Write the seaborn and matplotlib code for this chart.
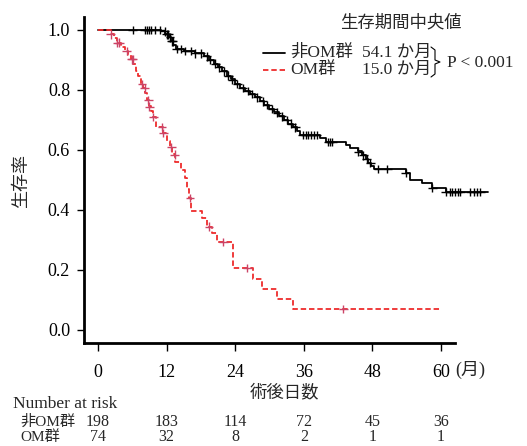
import numpy as np
import pandas as pd
import seaborn as sns
import matplotlib.pyplot as plt
from matplotlib.lines import Line2D
from matplotlib.transforms import blended_transform_factory

# Kaplan-Meier steps (month, survival)
non_om_time = [0, 11.0, 11.8, 12.4, 12.8, 13.2, 13.6, 15.0, 17.0, 18.5, 19.5, 20.3, 21.0, 21.7, 22.5, 23.2, 23.9,
               24.8, 25.7, 26.6, 27.5, 28.3, 29.1, 29.9, 30.8, 31.7, 32.5, 33.3, 34.1, 34.8, 35.4, 38.9, 39.8,
               43.3, 44.1, 45.5, 46.2, 46.8, 47.3, 47.8, 48.3, 53.8, 54.5, 56.7, 58.5, 60.8, 68.3]
non_om_surv = [1.0, 0.995, 0.985, 0.975, 0.962, 0.95, 0.937, 0.93, 0.922, 0.912, 0.9, 0.888, 0.875, 0.862, 0.848, 0.835, 0.82,
               0.807, 0.797, 0.787, 0.775, 0.762, 0.75, 0.737, 0.725, 0.712, 0.7, 0.688, 0.675, 0.662, 0.65, 0.64, 0.627,
               0.617, 0.607, 0.595, 0.582, 0.57, 0.557, 0.545, 0.537, 0.523, 0.5, 0.49, 0.473, 0.46, 0.46]
om_time = [0, 2.2, 2.8, 3.4, 4.0, 4.7, 5.3, 5.8, 6.2, 6.6, 7.0, 7.5, 7.9, 8.3, 8.6, 8.9, 9.3, 9.7, 10.1, 11.3,
           12.1, 12.6, 13.0, 13.5, 14.6, 15.2, 15.6, 15.9, 16.2, 18.2, 19.1, 20.0, 20.9, 23.6, 27.1, 28.7, 31.3, 34.1, 60.0]
om_surv = [1.0, 0.986, 0.972, 0.958, 0.944, 0.93, 0.916, 0.902, 0.888, 0.862, 0.848, 0.82, 0.806, 0.79, 0.767, 0.745, 0.73, 0.71, 0.677, 0.657,
           0.63, 0.61, 0.585, 0.56, 0.533, 0.505, 0.47, 0.44, 0.397, 0.373, 0.345, 0.322, 0.293, 0.207, 0.17, 0.137, 0.103, 0.07, 0.07]

# censor marks (months)
non_om_censor = [6.1, 8.2, 8.6, 8.9, 9.2, 10.0, 10.9, 11.7, 12.0, 12.3, 12.6, 12.9, 13.1, 13.8, 14.5, 15.3, 16.2, 17.0,
                 18.0, 19.0, 19.6, 20.5, 21.2, 22.0, 22.8, 23.5, 24.4, 25.3, 26.2, 27.0, 27.9, 28.8, 29.6, 30.5, 31.3,
                 32.2, 33.0, 33.8, 34.5, 35.8, 36.3, 36.8, 37.3, 37.8, 38.3, 40.3, 40.6, 41.0, 45.5, 46.4, 47.0, 47.6,
                 49.0, 50.6, 53.8, 58.5, 60.8, 61.6, 62.0, 62.4, 62.9, 63.4, 65.1, 65.7, 66.3, 66.9]
om_censor = [2.2, 3.4, 3.7, 5.0, 5.9, 6.1, 7.7, 8.2, 8.8, 9.0, 9.7, 11.2, 11.4, 12.8, 13.4, 16.1, 19.4, 21.9, 26.1, 42.9]

groups = ['非OM群', 'OM群']
medians = ['54.1 か月', '15.0 か月']
risk_months = [0, 12, 24, 36, 48, 60]
risk_non_om = [198, 183, 114, 72, 45, 36]
risk_om = [74, 32, 8, 2, 1, 1]

line_colors = {'非OM群': 'black', 'OM群': '#ee2c2c'}
mark_colors = {'非OM群': 'black', 'OM群': '#cc4466'}

W, H = 527, 446


def fx(px):
    return px / W


def fy(py):
    return 1 - py / H


def surv_at(times, surv, t):
    idx = np.searchsorted(times, t, side='right') - 1
    return np.asarray(surv)[idx]


curves = pd.concat([
    pd.DataFrame({'time': non_om_time, 'surv': non_om_surv, 'group': groups[0]}),
    pd.DataFrame({'time': om_time, 'surv': om_surv, 'group': groups[1]}),
])
censors = pd.concat([
    pd.DataFrame({'time': non_om_censor, 'surv': surv_at(non_om_time, non_om_surv, non_om_censor), 'group': groups[0]}),
    pd.DataFrame({'time': om_censor, 'surv': surv_at(om_time, om_surv, om_censor), 'group': groups[1]}),
])

sns.set_style("ticks")
plt.rcParams['font.family'] = ['Liberation Serif', 'Noto Sans CJK JP']

fig = plt.figure(figsize=(W / 100, H / 100), dpi=100)
ax = fig.add_axes([fx(84), fy(343), (490 - 84) / W, (343 - 17) / H])

sns.lineplot(data=curves, x='time', y='surv', hue='group', style='group', palette=line_colors,
             dashes={groups[0]: '', groups[1]: (3, 1.6)}, drawstyle='steps-post',
             estimator=None, sort=False, linewidth=1.3, legend=False, ax=ax)
sns.scatterplot(data=censors, x='time', y='surv', hue='group', palette=mark_colors, marker='+',
                s=40, linewidth=1.0, legend=False, ax=ax, zorder=3)

x0, x60 = 98, 441
ppm = (x60 - x0) / 60
ax.set_xlim((84 - x0) / ppm, (490 - x0) / ppm)
ax.set_ylim((330 - 343) / 300, (330 - 17) / 300)
ax.set_xticks(risk_months)
ax.set_yticks([0, 0.2, 0.4, 0.6, 0.8, 1.0])
ax.set_yticklabels(['0.0', '0.2', '0.4', '0.6', '0.8', '1.0'])
ax.spines['top'].set_visible(False)
ax.spines['right'].set_visible(False)
for s in ['left', 'bottom']:
    ax.spines[s].set_linewidth(2)
    ax.spines[s].set_color('black')
ax.spines['bottom'].set_bounds((84 - x0) / ppm, (455 - x0) / ppm)
ax.tick_params(axis='x', length=6, width=1, pad=9, labelsize=13, colors='black')
ax.tick_params(axis='y', length=5, width=1, pad=5, labelsize=13, colors='black')
ax.set_xlabel('')
ax.set_ylabel('')

fig.text(fx(284), fy(392), '術後日数', fontsize=12.5, family='Noto Sans CJK JP', ha='center', va='center')
fig.text(fx(21), fy(181), '生存率', fontsize=13, family='Noto Sans CJK JP', rotation=90, ha='center', va='center')
fig.text(fx(455), fy(370), '(月)', fontsize=13, ha='left', va='center')

# legend with medians
fig.text(fx(340), fy(22), '生存期間中央値', fontsize=12.5, family='Noto Sans CJK JP', ha='left', va='center')
for i, (g, m) in enumerate(zip(groups, medians)):
    yy = [53, 70][i]
    fig.add_artist(Line2D([fx(263), fx(285)], [fy(yy), fy(yy)], color=line_colors[g], lw=1.3,
                          linestyle='-' if i == 0 else (0, (3, 1.6))))
    fig.text(fx(290), fy(yy), g, fontsize=12.5, ha='left', va='center')
    fig.text(fx(362), fy(yy), m, fontsize=12.5, ha='left', va='center')
bx = [431, 435, 435, 440, 435, 435, 431]
by = [47, 50, 60, 62, 64, 74, 77]
fig.add_artist(Line2D([fx(v) for v in bx], [fy(v) for v in by], color='black', lw=0.8))
fig.text(fx(447), fy(63), 'P < 0.001', fontsize=12.5, ha='left', va='center')

# number at risk table
tr = blended_transform_factory(ax.transData, fig.transFigure)
fig.text(fx(13), fy(404), 'Number at risk', fontsize=12.5, ha='left', va='center')
for row, (g, vals) in enumerate(zip(groups, [risk_non_om, risk_om])):
    yy = [422, 437][row]
    fig.text(fx(20), fy(yy), g, fontsize=11, ha='left', va='center')
    for m, v in zip(risk_months, vals):
        ax.text(m, fy(yy), str(v), transform=tr, fontsize=11.5, ha='center', va='center', clip_on=False)

fig.savefig('out.png', dpi=100)
